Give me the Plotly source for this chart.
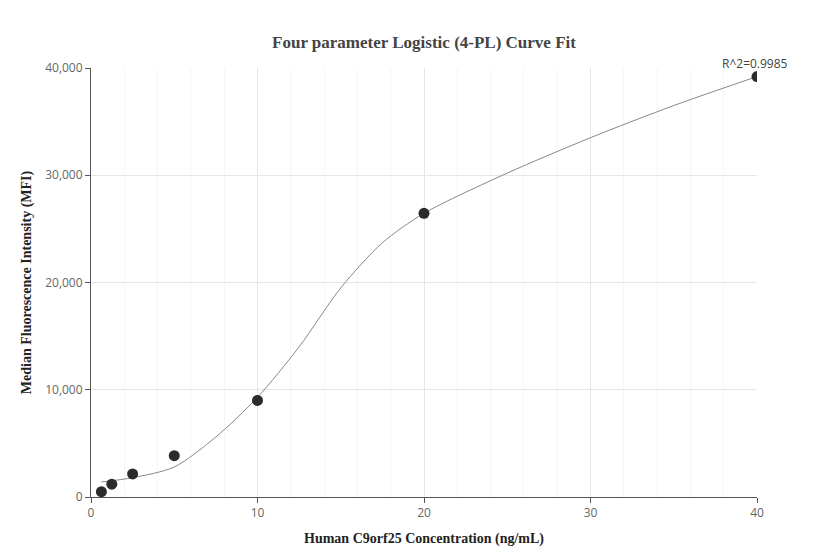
import plotly.graph_objects as go

conc = [0.625, 1.25, 2.5, 5, 10, 20, 40]
mfi = [500, 1200, 2150, 3850, 9000, 26450, 39200]
curve_x = [0.625, 2.5, 5, 7.5, 10, 12.5, 15, 17.5, 20, 25, 30, 35, 40]
curve_y = [1400, 1800, 2800, 5600, 9300, 14000, 19500, 23700, 26450, 30200, 33500, 36500, 39200]

fig = go.Figure()
fig.add_trace(go.Scatter(x=curve_x, y=curve_y, mode="lines", line=dict(color="#888", width=1, shape="spline", smoothing=0.8), hoverinfo="skip"))
fig.add_trace(go.Scatter(x=conc, y=mfi, mode="markers", marker=dict(color="#2b2b2b", size=11)))
fig.add_annotation(x=40, y=39200, text="R^2=0.9985", showarrow=False, yshift=13, xshift=-2,
                   font=dict(family="Open Sans, sans-serif", size=12, color="#444"))
serif = "Times New Roman, Liberation Serif, serif"
fig.update_layout(
    width=832, height=560, showlegend=False, plot_bgcolor="white", paper_bgcolor="white",
    margin=dict(l=83, r=83, t=60, b=71, autoexpand=False),
    title=dict(text="<b>Four parameter Logistic (4-PL) Curve Fit</b>", x=0.5, y=0.94, yanchor="middle",
               font=dict(family=serif, size=17, color="#444")),
    xaxis=dict(range=[0, 40], tickvals=[0, 10, 20, 30, 40], showgrid=True, gridcolor="#e6e6e6",
               minor=dict(dtick=2, showgrid=True, gridcolor="#f5f5f5"),
               showline=True, linecolor="#555", ticks="outside", ticklen=5, tickcolor="#555",
               tickfont=dict(family="Open Sans, sans-serif", size=12, color="#666"), zeroline=False,
               title=dict(text="<b>Human C9orf25 Concentration (ng/mL)</b>", standoff=12, font=dict(family=serif, size=14, color="#222"))),
    yaxis=dict(range=[0, 40000], tickvals=[0, 10000, 20000, 30000, 40000], tickformat=",",
               showgrid=True, gridcolor="#e6e6e6", showline=True, linecolor="#555", ticks="outside",
               ticklen=5, tickcolor="#555", zeroline=False,
               tickfont=dict(family="Open Sans, sans-serif", size=12, color="#666"),
               title=dict(text="<b>Median Fluorescence Intensity (MFI)</b>", standoff=10, font=dict(family=serif, size=14, color="#222"))),
)
fig.write_html("out.html")
